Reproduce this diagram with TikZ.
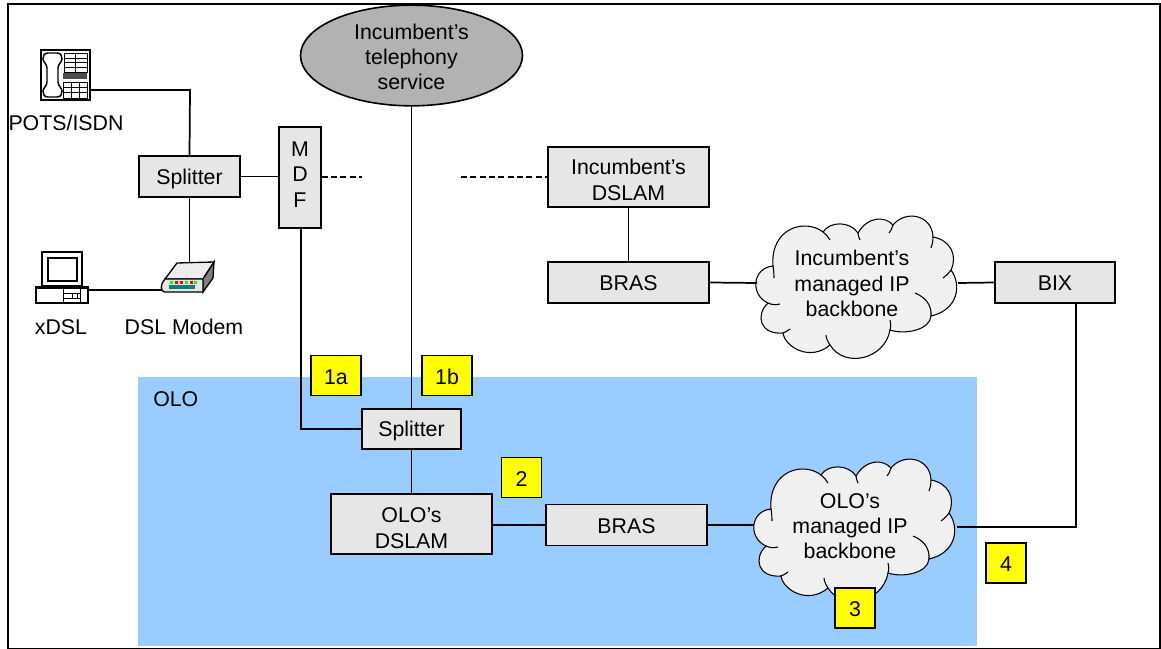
\documentclass[tikz,border=0pt]{standalone}
\usepackage{fontspec}
\setmainfont{Liberation Sans}
\usetikzlibrary{shapes.geometric}
\definecolor{boxgray}{HTML}{E6E6E6}
\definecolor{cloudgray}{HTML}{F0F0F0}
\definecolor{ellgray}{HTML}{B2B2B2}
\definecolor{olo}{HTML}{99CCFF}
\definecolor{tag}{HTML}{FFFF00}
\tikzset{
 x=0.75pt,y=-0.75pt,
 every node/.style={font=\fontsize{16}{19}\selectfont,inner sep=0pt,align=center},
 bx/.style={draw=black,fill=boxgray,line width=1.1pt,rectangle,inner sep=0pt},
 tagbox/.style={draw=black,fill=tag,line width=1.2pt,rectangle,minimum height=30pt},
 link/.style={draw=black,line width=1.3pt},
 dashlink/.style={draw=black,line width=1.3pt,dash pattern=on 4.5pt off 2.5pt},
 cloudline/.style={draw=black,line width=0.8pt,fill=cloudgray},
 icon/.style={rectangle,minimum width=1pt,minimum height=1pt},
}
\newcommand{\bxnode}[6]{\node[bx,minimum width=#3*0.75pt,minimum height=#4*0.75pt,label={[yshift=-#6*0.75pt]center:{#5}}] (#1) at (#2) {};}
\newcommand{\tagnode}[4]{\node[tagbox,minimum width=#3pt,label={[yshift=-1pt]center:{#4}}] (#1) at (#2) {};}
\newcommand{\cloudshape}{%
 \path[cloudline] (773,266) .. controls (770,228) and (805,218) .. (823,232)
  .. controls (830,221) and (850,221) .. (858,233)
  .. controls (868,216) and (885,216) .. (893,225)
  .. controls (905,210) and (932,214) .. (933,237)
  .. controls (950,240) and (958,255) .. (951,270)
  .. controls (962,285) and (958,310) .. (931,316)
  .. controls (930,330) and (905,335) .. (890,330)
  .. controls (885,359) and (845,369) .. (830,345)
  .. controls (810,362) and (785,347) .. (783,333)
  .. controls (760,335) and (755,315) .. (768,303)
  .. controls (750,295) and (752,268) .. (773,266) -- cycle;
 \draw[line width=0.8pt] (773,266) .. controls (774,272) and (774,276) .. (774,278);
 \draw[line width=0.8pt] (768,303) .. controls (772,305) and (776,305) .. (780,304);
 \draw[line width=0.8pt] (783,333) .. controls (785,332) and (788,331) .. (790,329);
 \draw[line width=0.8pt] (830,345) .. controls (828,342) and (826,338) .. (826,335);
 \draw[line width=0.8pt] (890,330) .. controls (891,326) and (891,323) .. (890,320);
 \draw[line width=0.8pt] (931,316) .. controls (932,305) and (925,297) .. (915,293);
 \draw[line width=0.8pt] (951,270) .. controls (948,274) and (946,276) .. (943,278);
 \draw[line width=0.8pt] (933,237) .. controls (933,242) and (932,245) .. (931,248);
 \draw[line width=0.8pt] (893,225) .. controls (892,228) and (891,231) .. (889,233);
 \draw[line width=0.8pt] (858,233) .. controls (858,235) and (859,238) .. (860,240);
 \draw[line width=0.8pt] (823,232) .. controls (826,234) and (828,237) .. (830,240);
}
\begin{document}
\begin{tikzpicture}
\useasboundingbox (0,0) rectangle (1161,649);
\clip (0,0) rectangle (1161,649);
% frame
\draw[line width=1.5pt] (8,4.5) rectangle (1160,648.5);
% OLO region
\fill[olo] (138,377) rectangle (977,646);
\node[anchor=west] (olol) at (153,399) {OLO};
% telephone ellipse
\node[ellipse,draw=black,fill=ellgray,line width=1.2pt,minimum width=166.5pt,minimum height=75.5pt,label={[yshift=-1pt]center:{Incumbent’s\\telephony\\service}}] (tel) at (411.5,55.5) {};
% boxes
\bxnode{spa}{189.5,176.5}{101}{41}{Splitter}{2}
\node[bx,minimum width=31.5pt,minimum height=75.5pt,label={[yshift=2.25pt]center:{M\\D\\F}}] (mdf) at (300,177.5) {};
\bxnode{idslam}{628.5,177}{161}{60}{Incumbent’s\\DSLAM}{3}
\bxnode{ibras}{628.5,282.5}{161}{41}{BRAS}{1}
\bxnode{bix}{1055,282.5}{120}{41}{BIX}{1}
\bxnode{spb}{411.5,429}{99}{40}{Splitter}{2}
\bxnode{odslam}{411.5,524}{161}{60}{OLO’s\\DSLAM}{4}
\bxnode{obras}{626.5,525}{161}{41}{BRAS}{1}
% phone icon
\node[icon,draw=black,fill=white,line width=1.3pt,minimum width=36.5pt,minimum height=38pt] (phone) at (65.5,75) {};
\draw[line width=1.1pt,fill=white] (48,53) .. controls (44,53) and (43,56) .. (43,59)
  .. controls (43,62) and (47,64) .. (47,68) -- (47,82)
  .. controls (47,86) and (43,88) .. (43,91) .. controls (43,94) and (44,97) .. (48,97)
  -- (57,97) .. controls (61,97) and (62,94) .. (62,91) .. controls (62,88) and (58,86) .. (58,82)
  -- (58,68) .. controls (58,64) and (62,62) .. (62,59) .. controls (62,56) and (61,53) .. (57,53) -- cycle;
\draw[line width=0.6pt] (64,53) rectangle (87,72);
\foreach \yy in {58,62,67}{\draw[line width=0.6pt] (64,\yy) -- (87,\yy);}
\draw[line width=0.6pt] (75.5,53) -- (75.5,72);
\fill[black!70] (63,73.5) rectangle (87,79.5);
\draw[line width=0.6pt] (63,82) rectangle (87,98);
\foreach \yy in {87,92}{\draw[line width=0.6pt] (63,\yy) -- (87,\yy);}
\foreach \xx in {71,79}{\draw[line width=0.6pt] (\xx,82) -- (\xx,98);}
% computer icon
\node[icon,draw=black,fill=white,line width=1pt,minimum width=30pt,minimum height=25.5pt] (mon) at (62,269) {};
\draw[line width=1.5pt,fill=white] (48,258) rectangle (77,281);
\node[icon,draw=black,fill=white,line width=1pt,minimum width=39pt,minimum height=12pt] (pc) at (62,295) {};
\fill[black] (36,286) rectangle (88,289);
\draw[line width=0.6pt] (63,288) rectangle (80,303);
\draw[line width=0.6pt] (63,293) -- (80,293) (63,298) -- (80,298);
\draw[line width=0.6pt,fill=white] (72,293) rectangle (77,298);
% modem icon
\node[icon,minimum width=40pt,minimum height=22.5pt] (modem) at (188,277) {};
\draw[line width=1pt,fill=boxgray!70] (165,279) -- (177,263) -- (214,262) -- (203,279) -- cycle;
\draw[line width=1pt,fill=gray] (203,279) -- (214,262) -- (213,278) -- (203,292) -- cycle;
\draw[line width=1pt,fill=boxgray] (165,279) -- (203,279) -- (203,292) -- (165,292) .. controls (160,292) and (160,284) .. (165,279) -- cycle;
\fill[teal] (169,285) rectangle (195,289);
\foreach \xx/\cc in {170/green,175/red,180/red,185/green,190/red,194/green}{\fill[\cc] (\xx,281.5) rectangle +(3,2.5);}
% clouds
\cloudshape
\begin{scope}[shift={(-2*0.75pt,-243*0.75pt)}]\cloudshape\end{scope}
\node (ct) at (852,283.5) {Incumbent’s\\managed IP\\backbone};
\node (ot) at (850,526) {OLO’s\\managed IP\\backbone};
\coordinate (icl) at (757,283);
\coordinate (icr) at (958,283);
\coordinate (ocl) at (754,525);
\coordinate (ocr) at (957,527);
\coordinate (bixd) at (1076,303);
\coordinate (mdfd) at (301,228);
\coordinate (dasha) at (362,177);
\coordinate (dashb) at (461,177);
% connectors
\draw[link] (90,90) -- (190,90) -- (spa.north);
\draw[link] (spa.south) -- (spa.south |- modem.north);
\draw[link] (88,290) -- (162,290);
\draw[link] (spa.east) -- (mdf.west |- spa.east);
\draw[dashlink] (mdf.east |- dasha) -- (dasha);
\draw[dashlink] (dashb) -- (idslam.west |- dashb);
\draw[link] (tel.south) -- (spb.north);
\draw[link] (mdfd) -- (mdfd |- spb.west) -- (spb.west);
\draw[link] (spb.south) -- (odslam.north -| spb.south);
\draw[link] (idslam.south) -- (ibras.north);
\draw[link] (ibras.east) -- (icl);
\draw[link] (icr) -- (bix.west);
\draw[link] (bixd) -- (bixd |- ocr) -- (ocr);
\draw[link] (obras.west -| odslam.east) -- (obras.west);
\draw[link] (obras.east) -- (ocl);
% labels
\node (potsl) at (66,123) {POTS/ISDN};
\node (xdsl) at (61,327) {xDSL};
\node (modl) at (184,327) {DSL Modem};
% tags
\tagnode{t1a}{336,375.5}{37.5}{1a}
\tagnode{t1b}{447,375.5}{37.5}{1b}
\tagnode{t2}{521.5,477.5}{30}{2}
\tagnode{t3}{855,608}{30}{3}
\tagnode{t4}{1006,563}{30}{4}
\end{tikzpicture}
\end{document}
